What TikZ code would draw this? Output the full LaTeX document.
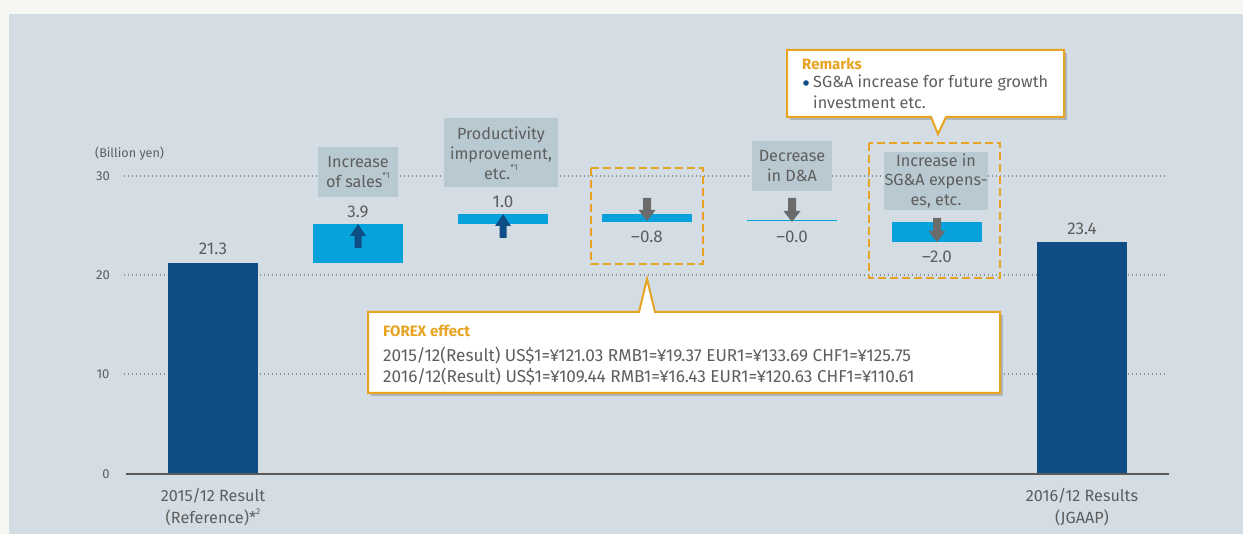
\documentclass[tikz,border=0pt]{standalone}
\usepackage{fontspec}
\setmainfont{Fira Sans}
\definecolor{outerbg}{HTML}{F6F7F2}
\definecolor{panel}{HTML}{D4DDE4}
\definecolor{dblue}{HTML}{0E4E84}
\definecolor{lblue}{HTML}{07A2DC}
\definecolor{boxc}{HTML}{B9C9D1}
\definecolor{txt}{HTML}{5E5E5E}
\definecolor{garr}{HTML}{6B6B6B}
\definecolor{orng}{HTML}{E8A322}
\definecolor{gridc}{HTML}{8A9299}
\definecolor{axisc}{HTML}{5A5A5A}
\newcommand\fL{\fontsize{16.2}{19.8}\selectfont}
\newcommand\fB{\fontsize{16.2}{22}\selectfont}
\newcommand\fV{\fontsize{17}{20}\selectfont}
\newcommand\fM{\fontsize{17.2}{21}\selectfont}
\newcommand\fH{\fontsize{15}{18}\selectfont}
\newcommand\fS{\fontsize{13}{15}\selectfont}
\newcommand\fXS{\fontsize{12.6}{14}\selectfont}
\newcommand\supx[1]{\raisebox{0.55em}{\fontsize{8.5}{9}\selectfont #1}}
\newcommand\upblock[4]{\fill[#4] (#1,#2) -- (#1+8,#2+12) -- (#1+3.5,#2+12) -- (#1+3.5,#3) -- (#1-3.5,#3) -- (#1-3.5,#2+12) -- (#1-8,#2+12) -- cycle;}
\newcommand\downblock[4]{\fill[#4] (#1-4,#2) -- (#1+4,#2) -- (#1+4,#3-11) -- (#1+8.5,#3-11) -- (#1,#3) -- (#1-8.5,#3-11) -- (#1-4,#3-11) -- cycle;}
\tikzset{
  gridline/.style={draw=gridc, line width=1.2pt, dash pattern=on 1.2pt off 2.8pt},
  lbl/.style={text=txt, font=\fL, align=center, inner sep=0pt},
  val/.style={text=txt, font=\fV, inner sep=0pt},
  axl/.style={text=txt, font=\fS, inner sep=0pt},
  gbox/.style={fill=boxc},
  odash/.style={draw=orng, line width=2.5pt, dash pattern=on 8pt off 4pt},
  callout/.style={draw=orng, line width=2pt, fill=white, line join=miter},
  shade/.style={fill=black, opacity=0.18},
}
\begin{document}
\begin{tikzpicture}[x=1pt,y=-1pt]
\useasboundingbox (0,0) rectangle (1243,534);
\fill[outerbg] (0,0) rectangle (1243,534);
\fill[panel] (9,14) rectangle (1243,534);
% grid
\draw[gridline] (124,176) -- (1166,176);
\draw[gridline] (124,275) -- (1166,275);
\draw[gridline] (124,374) -- (1166,374);
\node[axl] (y30) at (103,176) {30};
\node[axl] (y20) at (103,275) {20};
\node[axl] (y10) at (103,374) {10};
\node[axl] (y0)  at (106,474) {0};
\node[axl, font=\fXS, anchor=west] (unit) at (95,154) {(Billion yen)};
% gray label boxes
\fill[gbox] (318,147) rectangle (398,197);
\node[lbl] (lsales) at (358,172) {Increase\\of sales\supx{*1}};
\fill[gbox] (444,118) rectangle (558,187);
\node[lbl] (lprod) at (501,153) {Productivity\\improvement,\\etc.\supx{*1}};
\fill[gbox] (752,141) rectangle (832,191);
\node[lbl] (lda) at (792,166) {Decrease\\in D\&A};
\fill[gbox] (884,152) rectangle (988,210);
\node[lbl] (lsga) at (936,181) {Increase in\\SG\&A expens-\\es, etc.};
% bars
\fill[dblue] (168,263) rectangle (258,474);
\fill[dblue] (1037,242) rectangle (1127,474);
\fill[lblue] (313,224) rectangle (403,263);
\fill[lblue] (458,214) rectangle (548,224);
\fill[lblue] (602,214) rectangle (692,222);
\draw[lblue, line width=1pt] (747,221) -- (837,221);
\fill[lblue] (892,222) rectangle (982,242);
% arrows
\upblock{358}{224}{248}{dblue}
\upblock{503}{214}{238}{dblue}
\downblock{647}{198}{221}{garr}
\downblock{792}{198}{222}{garr}
\downblock{937}{218}{242}{garr}
% values
\node[val] (v1) at (213,249) {21.3};
\node[val] (v2) at (358,212) {3.9};
\node[val] (v3) at (503,202) {1.0};
\node[val] (v4) at (647,237) {–0.8};
\node[val] (v5) at (792,237) {–0.0};
\node[val] (v6) at (937,257) {–2.0};
\node[val] (v7) at (1082,229) {23.4};
% dashed highlight boxes
\draw[odash] (591,168) rectangle (703,264);
\draw[odash] (869,143) rectangle (1000,278);
% FOREX callout
\fill[shade] (371,315) -- (1003,315) -- (1003,396) -- (371,396) -- cycle;
\draw[callout] (368,312) -- (639,312) -- (647,279) -- (655,312) -- (1000,312) -- (1000,393) -- (368,393) -- cycle;
\node[text=orng, font=\fH\bfseries, anchor=west, inner sep=0pt] (fxt) at (383,331) {FOREX effect};
\node[text=txt, font=\fM, anchor=west, inner sep=0pt, align=left] (fx1) at (383,356) {2015/12(Result) US\$1=¥121.03 RMB1=¥19.37 EUR1=¥133.69 CHF1=¥125.75};
\node[text=txt, font=\fM, anchor=west, inner sep=0pt, align=left] (fx2) at (383,377) {2016/12(Result) US\$1=¥109.44 RMB1=¥16.43 EUR1=¥120.63 CHF1=¥110.61};
% Remarks callout
\fill[shade] (790,53) -- (1067,53) -- (1067,120) -- (790,120) -- cycle;
\draw[callout] (787,50) -- (1064,50) -- (1064,117) -- (946,117) -- (938,134) -- (931,117) -- (787,117) -- cycle;
\node[text=orng, font=\fH\bfseries, anchor=west, inner sep=0pt] (rmk) at (802,64) {Remarks};
\fill[dblue] (806,83) circle (2.8);
\node[text=txt, font=\fL, anchor=west, inner sep=0pt] (r1) at (813,83) {SG\&A increase for future growth};
\node[text=txt, font=\fL, anchor=west, inner sep=0pt] (r2) at (813,102) {investment etc.};
% axis
\draw[axisc, line width=1.5pt] (126,474) -- (1169,474);
\node[lbl, font=\fB] (x1) at (213,507) {2015/12 Result\\(Reference)*\supx{2}};
\node[lbl, font=\fB] (x2) at (1082,507) {2016/12 Results\\(JGAAP)};
\end{tikzpicture}
\end{document}
